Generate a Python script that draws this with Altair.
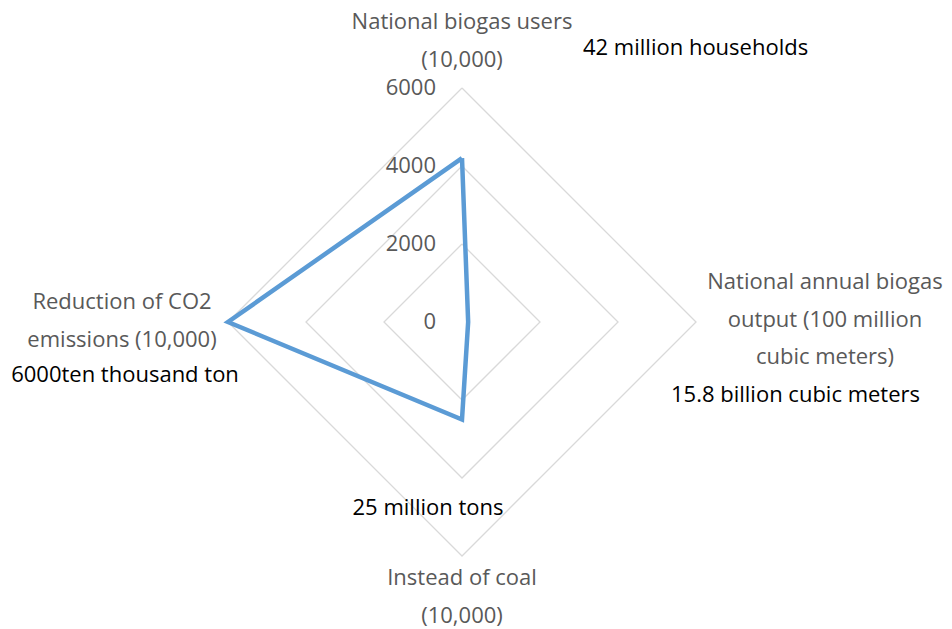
import altair as alt
import pandas as pd

# ---------------- data ----------------
categories = [
    "National biogas users (10,000)",
    "National annual biogas output (100 million cubic meters)",
    "Instead of coal (10,000)",
    "Reduction of CO2 emissions (10,000)",
]
label_lines = [
    ["National biogas users", "(10,000)"],
    ["National annual biogas", "output (100 million", "cubic meters)"],
    ["Instead of coal", "(10,000)"],
    ["Reduction of CO2", "emissions (10,000)"],
]
values = [4200, 158, 2500, 6000]
annotations = [
    "42 million households",
    "15.8 billion cubic meters",
    "25 million tons",
    "6000ten thousand ton",
]
ticks = [0, 2000, 4000, 6000]
max_value = 6000

# ---------------- layout ----------------
W, H = 936, 621
cx, cy = 454, 314          # centre of the radar in chart pixels
radius_px = 234
k = radius_px / max_value  # pixels per unit

xdom = [-cx / k, (W - cx) / k]
ydom = [-(H - cy) / k, cy / k]

GRAY = "#595959"
GRID = "#d9d9d9"
BLUE = "#5b9bd5"
FONT = "Open Sans"
FS = 22

n = len(categories)

series_df = pd.DataFrame({
    "idx": list(range(n)) + [0],
    "order": list(range(n + 1)),
    "r": values + [values[0]],
})

grid_rows = []
for t in ticks[1:]:
    for j in range(n + 1):
        grid_rows.append({"level": t, "idx": j % n, "order": j, "r": t})
grid_df = pd.DataFrame(grid_rows)

tick_df = pd.DataFrame({"idx": [0] * len(ticks), "r": ticks, "label": [str(t) for t in ticks]})

label_df = pd.DataFrame({
    "idx": list(range(n)),
    "r": [max_value] * n,
    "category": categories,
    "lines": label_lines,
    "note": annotations,
})

xs = alt.Scale(domain=xdom, nice=False, zero=False)
ys = alt.Scale(domain=ydom, nice=False, zero=False)


def polar(base):
    return base.transform_calculate(
        px="datum.r * sin(datum.idx * PI / 2)",
        py="datum.r * cos(datum.idx * PI / 2)",
    )


def xy():
    return dict(
        x=alt.X("px:Q", scale=xs, axis=None),
        y=alt.Y("py:Q", scale=ys, axis=None),
    )


grid = polar(alt.Chart(grid_df)).mark_line(color=GRID, strokeWidth=1.3).encode(
    detail="level:N", order="order:Q", **xy()
)

series = polar(alt.Chart(series_df)).mark_line(
    color=BLUE, strokeWidth=4.5, strokeJoin="miter"
).encode(order="order:Q", **xy())

tick_text = polar(alt.Chart(tick_df)).mark_text(
    align="right", baseline="middle", dx=-26, font=FONT, fontSize=FS, color=GRAY
).encode(text="label:N", **xy())

# category labels (first line position) and annotations, offset from each outer vertex
cat_offsets = [(0, -66), (129, -40), (0, 22), (-106, -20)]
note_specs = [
    dict(align="left", dx=121, dy=-40),
    dict(align="left", dx=-25, dy=73),
    dict(align="center", dx=-34, dy=-48),
    dict(align="center", dx=-103, dy=53),
]

layers = [grid, series, tick_text]
base_lbl = polar(alt.Chart(label_df))
for i in range(n):
    dx, dy = cat_offsets[i]
    layers.append(
        base_lbl.transform_filter(f"datum.idx == {i}").mark_text(
            align="center", baseline="middle", dx=dx, dy=dy, lineHeight=37.5,
            font=FONT, fontSize=FS, color=GRAY
        ).encode(text="lines", **xy())
    )
    layers.append(
        base_lbl.transform_filter(f"datum.idx == {i}").mark_text(
            baseline="middle", font=FONT, fontSize=FS, color="#000000", **note_specs[i]
        ).encode(text="note:N", **xy())
    )

chart = alt.layer(*layers).properties(
    width=W, height=H, padding=0, autosize=alt.AutoSizeParams(type="none")
).configure_view(stroke=None)

chart.save("out.html", embed_options={"renderer": "svg", "actions": False})
